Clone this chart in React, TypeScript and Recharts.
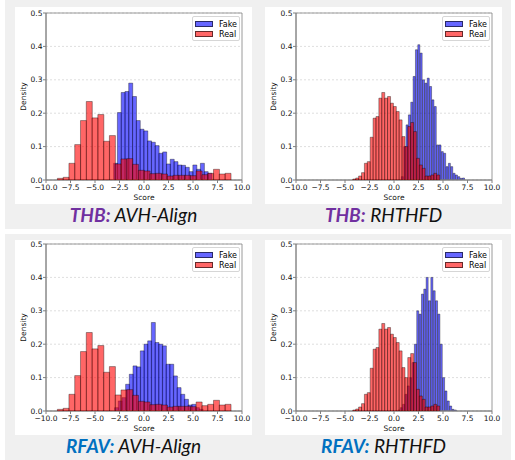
import React from 'react';
import { BarChart, Bar, XAxis, YAxis, CartesianGrid, Legend, ReferenceArea } from 'recharts';

// ---------- axis ticks & labels ----------
const xTicks = [-10, -7.5, -5, -2.5, 0, 2.5, 5, 7.5, 10];
const yTicks = [0, 0.1, 0.2, 0.3, 0.4, 0.5];
const seriesNames = ['Fake', 'Real'];

// ---------- histogram data (bin start, bin width, densities) ----------
// Real scores, AVH-Align (same in THB and RFAV)
const realAvhStart = -8.84;
const realAvhWidth = 0.59;
const realAvhDensity = [
  0.005, 0.008, 0.05, 0.106, 0.178, 0.235, 0.186, 0.196, 0.116, 0.133,
  0.048, 0.063, 0.064, 0.047, 0.029, 0.027, 0.019, 0.02, 0.018, 0.012,
  0.014, 0.014, 0.014, 0.013, 0.027, 0.016, 0.02, 0.032, 0.018, 0.02,
];

// Real scores, RHTHFD (same in THB and RFAV)
const realRhtStart = -4.2;
const realRhtWidth = 0.295;
const realRhtDensity = [
  0.003, 0.006, 0.012, 0.022, 0.05, 0.055, 0.128, 0.185, 0.19, 0.245,
  0.262, 0.245, 0.25, 0.23, 0.22, 0.205, 0.18, 0.13, 0.1, 0.16,
  0.172, 0.145, 0.065, 0.045, 0.035, 0.012, 0.012, 0.015, 0.02, 0.015,
];

// Fake scores, THB AVH-Align
const fakeThbAvhStart = -3.1;
const fakeThbAvhWidth = 0.385;
const fakeThbAvhDensity = [
  0.05, 0.202, 0.262, 0.265, 0.29, 0.25, 0.178, 0.152, 0.147, 0.117,
  0.113, 0.103, 0.08, 0.084, 0.048, 0.062, 0.055, 0.045, 0.044, 0.038,
  0.025, 0.045, 0.032, 0.05, 0.025, 0.02,
];

// Fake scores, THB RHTHFD
const fakeThbRhtStart = 0.75;
const fakeThbRhtWidth = 0.24;
const fakeThbRhtDensity = [
  0.01, 0.1, 0.165, 0.195, 0.233, 0.31, 0.39, 0.405, 0.38, 0.3,
  0.29, 0.305, 0.28, 0.24, 0.22, 0.105, 0.105, 0.085, 0.08, 0.04,
  0.05, 0.04, 0.02, 0.015, 0.01, 0.005, 0.006,
];

// Fake scores, RFAV AVH-Align
const fakeRfavAvhStart = -3.0;
const fakeRfavAvhWidth = 0.375;
const fakeRfavAvhDensity = [
  0.01, 0.03, 0.04, 0.08, 0.11, 0.135, 0.132, 0.18, 0.2, 0.21,
  0.265, 0.205, 0.2, 0.195, 0.14, 0.14, 0.105, 0.07, 0.05, 0.035,
  0.018, 0.02, 0.01, 0.005,
];

// Fake scores, RFAV RHTHFD
const fakeRfavRhtStart = 0.4;
const fakeRfavRhtWidth = 0.24;
const fakeRfavRhtDensity = [
  0.003, 0.01, 0.02, 0.05, 0.075, 0.1, 0.145, 0.2, 0.3, 0.29,
  0.35, 0.365, 0.4, 0.33, 0.4, 0.36, 0.33, 0.29, 0.2, 0.1,
  0.06, 0.03, 0.015, 0.005, 0.003,
];

const datasetNames = ['THB:', 'RFAV:'];
const methodNames = ['AVH-Align', 'RHTHFD'];
const datasetColors = ['#7030a0', '#0070c0'];

type Bin = { x: number; d: number };
const makeBins = (start: number, width: number, values: number[]): Bin[] =>
  values.map((d, i) => ({ x: start + width * (i + 0.5), d }));

const fmtX = (v: number) => {
  const s = Math.abs(v).toFixed(1);
  return v < 0 ? '\u2212' + s : s;
};
const fmtY = (v: number) => v.toFixed(1);

const FONT = '"DejaVu Sans", sans-serif';
const AXIS_GRAY = '#808080';

const LegendBox = () => (
  <div
    style={{
      boxSizing: 'border-box',
      width: 48,
      height: 25,
      background: '#fff',
      border: '1px solid #d6d6d6',
      borderRadius: 2,
      fontFamily: FONT,
      fontSize: 8,
      color: '#000',
      padding: '2px 0 0 2px',
    }}
  >
    {seriesNames.map((n, i) => (
      <div key={n} style={{ display: 'flex', alignItems: 'center', height: 10 }}>
        <span
          style={{
            display: 'inline-block',
            boxSizing: 'border-box',
            width: 18,
            height: 6,
            background: i === 0 ? 'rgba(0,0,255,0.6)' : 'rgba(255,0,0,0.6)',
            border: '0.8px solid rgba(0,0,0,0.6)',
            marginRight: 6,
          }}
        />
        <span>{n}</span>
      </div>
    ))}
  </div>
);

type PanelProps = {
  left: number;
  top: number;
  height: number;
  marginTop: number;
  fake: Bin[];
  real: Bin[];
  dataset: number;
  method: number;
};

const CHART_W = 237;

const Panel = ({ left, top, height, marginTop, fake, real, dataset, method }: PanelProps) => {
  const margin = { top: marginTop, right: 10, left: 0, bottom: 0 };
  const tickStyle = { fontSize: 7.5, fill: '#111', fontFamily: FONT };
  return (
    <>
      <div
        style={{ position: 'absolute', left, top, width: CHART_W, height, background: '#fff' }}
      />
      {/* bottom layer: grid, axes, Fake bars */}
      <div style={{ position: 'absolute', left, top }}>
        <BarChart width={CHART_W} height={height} data={fake} margin={margin} barCategoryGap={0} barGap={0}>
          <CartesianGrid vertical={false} stroke="#c8c8c8" strokeDasharray="2 2" strokeWidth={0.6} />
          <XAxis
            type="number"
            dataKey="x"
            domain={[-10, 10]}
            ticks={xTicks}
            interval={0}
            allowDataOverflow
            tickFormatter={fmtX}
            height={24}
            tick={tickStyle}
            tickSize={3}
            tickMargin={1.2}
            tickLine={{ stroke: AXIS_GRAY }}
            axisLine={{ stroke: AXIS_GRAY }}
            label={{ value: 'Score', position: 'insideBottom', offset: 4, style: { fontSize: 7.5, fill: '#111', fontFamily: FONT } }}
          />
          <YAxis
            type="number"
            domain={[0, 0.5]}
            ticks={yTicks}
            interval={0}
            allowDataOverflow
            tickFormatter={fmtY}
            width={31}
            tick={tickStyle}
            tickSize={3}
            tickMargin={0.5}
            tickLine={{ stroke: AXIS_GRAY }}
            axisLine={{ stroke: AXIS_GRAY }}
            label={{ value: 'Density', angle: -90, position: 'insideLeft', offset: 8, style: { fontSize: 7.5, fill: '#111', fontFamily: FONT, textAnchor: 'middle' } }}
          />
          <Bar
            dataKey="d"
            fill="#0000ff"
            fillOpacity={0.6}
            stroke="#000"
            strokeOpacity={0.6}
            strokeWidth={0.6}
            isAnimationActive={false}
          />
        </BarChart>
      </div>
      {/* top layer: Real bars, frame, legend */}
      <div style={{ position: 'absolute', left, top }}>
        <BarChart width={CHART_W} height={height} data={real} margin={margin} barCategoryGap={0} barGap={0}>
          <XAxis
            type="number"
            dataKey="x"
            domain={[-10, 10]}
            ticks={xTicks}
            allowDataOverflow
            height={24}
            tick={false}
            tickLine={false}
            axisLine={false}
          />
          <YAxis
            type="number"
            domain={[0, 0.5]}
            ticks={yTicks}
            allowDataOverflow
            width={31}
            tick={false}
            tickLine={false}
            axisLine={false}
          />
          <Bar
            dataKey="d"
            fill="#ff0000"
            fillOpacity={0.6}
            stroke="#000"
            strokeOpacity={0.6}
            strokeWidth={0.6}
            isAnimationActive={false}
          />
          <ReferenceArea x1={-10} x2={10} y1={0} y2={0.5} fill="none" stroke={AXIS_GRAY} strokeWidth={0.8} />
          <Legend
            layout="horizontal"
            verticalAlign="middle"
            align="center"
            wrapperStyle={{ left: 177, top: 16 - 13 + marginTop, width: 48, height: 25 }}
            content={() => <LegendBox />}
          />
        </BarChart>
      </div>
      <div
        style={{
          position: 'absolute',
          left,
          top: top + height,
          width: CHART_W,
          height: 21,
          lineHeight: '21px',
          textAlign: 'center',
          fontFamily: 'Lato, "Open Sans", sans-serif',
          fontStyle: 'italic',
          fontSize: 19,
          color: '#111',
          whiteSpace: 'nowrap',
        }}
      >
        <span style={{ color: datasetColors[dataset], fontWeight: 700 }}>{datasetNames[dataset]}</span>{' '}
        <span>{methodNames[method]}</span>
      </div>
    </>
  );
};

export default function App() {
  const realAvh = makeBins(realAvhStart, realAvhWidth, realAvhDensity);
  const realRht = makeBins(realRhtStart, realRhtWidth, realRhtDensity);
  return (
    <div style={{ position: 'absolute', left: 0, top: 0, width: 515, height: 460, background: '#fff', overflow: 'hidden' }}>
      <div style={{ position: 'absolute', left: 5, top: 0, width: 506, height: 229, background: '#f0f0f0' }} />
      <div style={{ position: 'absolute', left: 5, top: 234, width: 506, height: 226, background: '#f0f0f0' }} />
      <Panel left={15} top={7} height={197} marginTop={6} dataset={0} method={0}
        fake={makeBins(fakeThbAvhStart, fakeThbAvhWidth, fakeThbAvhDensity)} real={realAvh} />
      <Panel left={265} top={7} height={197} marginTop={6} dataset={0} method={1}
        fake={makeBins(fakeThbRhtStart, fakeThbRhtWidth, fakeThbRhtDensity)} real={realRht} />
      <Panel left={15} top={240} height={195} marginTop={4} dataset={1} method={0}
        fake={makeBins(fakeRfavAvhStart, fakeRfavAvhWidth, fakeRfavAvhDensity)} real={realAvh} />
      <Panel left={265} top={240} height={195} marginTop={4} dataset={1} method={1}
        fake={makeBins(fakeRfavRhtStart, fakeRfavRhtWidth, fakeRfavRhtDensity)} real={realRht} />
    </div>
  );
}
